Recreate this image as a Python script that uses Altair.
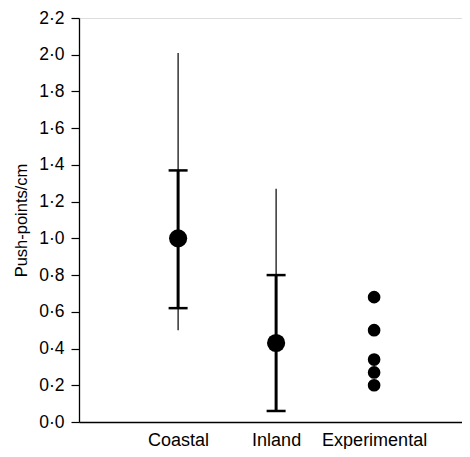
import altair as alt
import pandas as pd

categories = ["Coastal", "Inland", "Experimental"]
group_cats = ["Coastal", "Inland"]
means = [1.00, 0.43]
bar_lo = [0.62, 0.06]
bar_hi = [1.37, 0.80]
range_lo = [0.50, 0.06]
range_hi = [2.01, 1.27]
exp_values = [0.68, 0.50, 0.34, 0.27, 0.20]
y_ticks = [0.0, 0.2, 0.4, 0.6, 0.8, 1.0, 1.2, 1.4, 1.6, 1.8, 2.0, 2.2]

summary = pd.DataFrame({
    "cat": group_cats, "mean": means, "lo": bar_lo, "hi": bar_hi,
    "rlo": range_lo, "rhi": range_hi,
})
caps = pd.DataFrame({
    "cat": group_cats + group_cats,
    "val": bar_lo + bar_hi,
})
exp_df = pd.DataFrame({"cat": ["Experimental"] * len(exp_values), "val": exp_values})

FONT = "Liberation Sans"

x_enc = alt.X(
    "cat:N",
    scale=alt.Scale(type="point", domain=categories, padding=0.954, align=0.53),
    sort=categories,
    axis=alt.Axis(title=None, ticks=False, labelAngle=0, labelFontSize=18,
                  labelPadding=9, grid=False),
)
y_scale = alt.Scale(domain=[0, 2.2], nice=False, zero=True)
y_axis = alt.Axis(
    values=y_ticks,
    labelExpr="replace(format(datum.value, '.1f'), '.', '·')",
    tickSize=8, labelPadding=7, labelFontSize=17.5, grid=False,
    labelOverlap=False,
    title="Push-points/cm", titleFontSize=16.5, titlePadding=9,
)

thin = alt.Chart(summary).mark_rule(color="black", strokeWidth=1.2).encode(
    x=x_enc,
    y=alt.Y("rlo:Q", scale=y_scale, axis=y_axis),
    y2="rhi:Q",
)
thick = alt.Chart(summary).mark_rule(color="black", strokeWidth=3).encode(
    x=x_enc,
    y=alt.Y("lo:Q", scale=y_scale, axis=y_axis),
    y2="hi:Q",
)
cap_marks = alt.Chart(caps).mark_tick(color="black", size=19, thickness=2.5, opacity=1).encode(
    x=x_enc,
    y=alt.Y("val:Q", scale=y_scale, axis=y_axis),
)
mean_pts = alt.Chart(summary).mark_circle(color="black", size=330, opacity=1).encode(
    x=x_enc,
    y=alt.Y("mean:Q", scale=y_scale, axis=y_axis),
)
exp_pts = alt.Chart(exp_df).mark_circle(color="black", size=160, opacity=1).encode(
    x=x_enc,
    y=alt.Y("val:Q", scale=y_scale, axis=y_axis),
)

chart = alt.layer(thin, thick, cap_marks, mean_pts, exp_pts).properties(
    width=383, height=404,
    autosize=alt.AutoSizeParams(type="none"),
    padding={"left": 71, "top": 10, "right": 0, "bottom": 27},
).configure_view(stroke=None).configure(background="white").configure_axis(
    labelFont=FONT, titleFont=FONT, labelColor="black", titleColor="black",
    titleFontWeight="normal", domainColor="black", domainWidth=1.3,
    tickColor="black", tickWidth=1.2,
).configure_axisY(
    labelFontSize=17.5, titleFontSize=16.5, tickSize=8, labelPadding=7,
    titlePadding=9,
).configure_axisX(
    labelFontSize=18, labelPadding=9,
)

chart.save("out.html", embed_options={"renderer": "svg", "actions": False})
